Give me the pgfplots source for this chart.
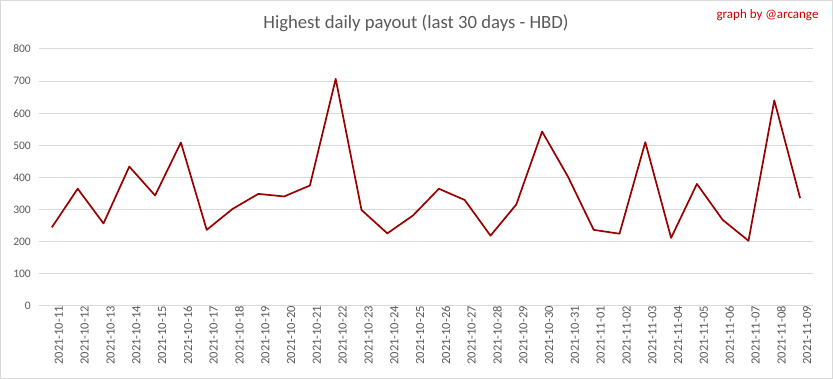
\documentclass[border=0pt]{standalone}
\usepackage{pgfplots}
\pgfplotsset{compat=1.18}
\usepackage{fontspec}
\setmainfont{Carlito}
\definecolor{txtgray}{HTML}{595959}
\definecolor{gridgray}{HTML}{D9D9D9}
\definecolor{linered}{HTML}{990000}
\definecolor{signred}{HTML}{D00000}
\begin{document}
\begin{tikzpicture}[x=1pt,y=1pt]
\draw[gridgray,line width=1pt] (0.5,0.5) rectangle (832.5,378.5);
\begin{axis}[
  at={(39pt,73pt)}, anchor=south west,
  scale only axis, width=774pt, height=257pt,
  xmin=-0.5, xmax=29.5, ymin=0, ymax=800,
  ytick={0,100,...,800},
  xtick={0,...,29},
  xticklabels={2021-10-11,2021-10-12,2021-10-13,2021-10-14,2021-10-15,2021-10-16,2021-10-17,2021-10-18,2021-10-19,2021-10-20,2021-10-21,2021-10-22,2021-10-23,2021-10-24,2021-10-25,2021-10-26,2021-10-27,2021-10-28,2021-10-29,2021-10-30,2021-10-31,2021-11-01,2021-11-02,2021-11-03,2021-11-04,2021-11-05,2021-11-06,2021-11-07,2021-11-08,2021-11-09},
  axis line style={draw=none},
  major tick length=0pt,
  ymajorgrids, grid style={gridgray, line width=1pt},
  /pgf/number format/assume math mode=true,
  yticklabel style={font=\fontsize{11.5}{12}\selectfont, text=txtgray, anchor=east, xshift=-8pt, inner sep=0pt},
  xticklabel style={font=\fontsize{12.5}{13}\selectfont, text=txtgray, rotate=90, anchor=east, yshift=-7pt, inner sep=0pt},
  clip=false,
]
\addplot[linered, line width=1.7pt, line join=round, mark=none] coordinates {
(0,245) (1,365) (2,257) (3,434) (4,344) (5,509) (6,237) (7,302) (8,349) (9,341)
(10,375) (11,707) (12,299) (13,226) (14,282) (15,365) (16,330) (17,219) (18,316) (19,543)
(20,403) (21,237) (22,225) (23,510) (24,212) (25,380) (26,268) (27,203) (28,640) (29,336)
};
\end{axis}
\node[text=txtgray, font=\fontsize{18.7}{20}\selectfont] at (416,356) {Highest daily payout (last 30 days - HBD)};
\node[text=signred, font=\fontsize{13}{14}\selectfont, anchor=east] at (822,364) {graph by @arcange};
\end{tikzpicture}
\end{document}
